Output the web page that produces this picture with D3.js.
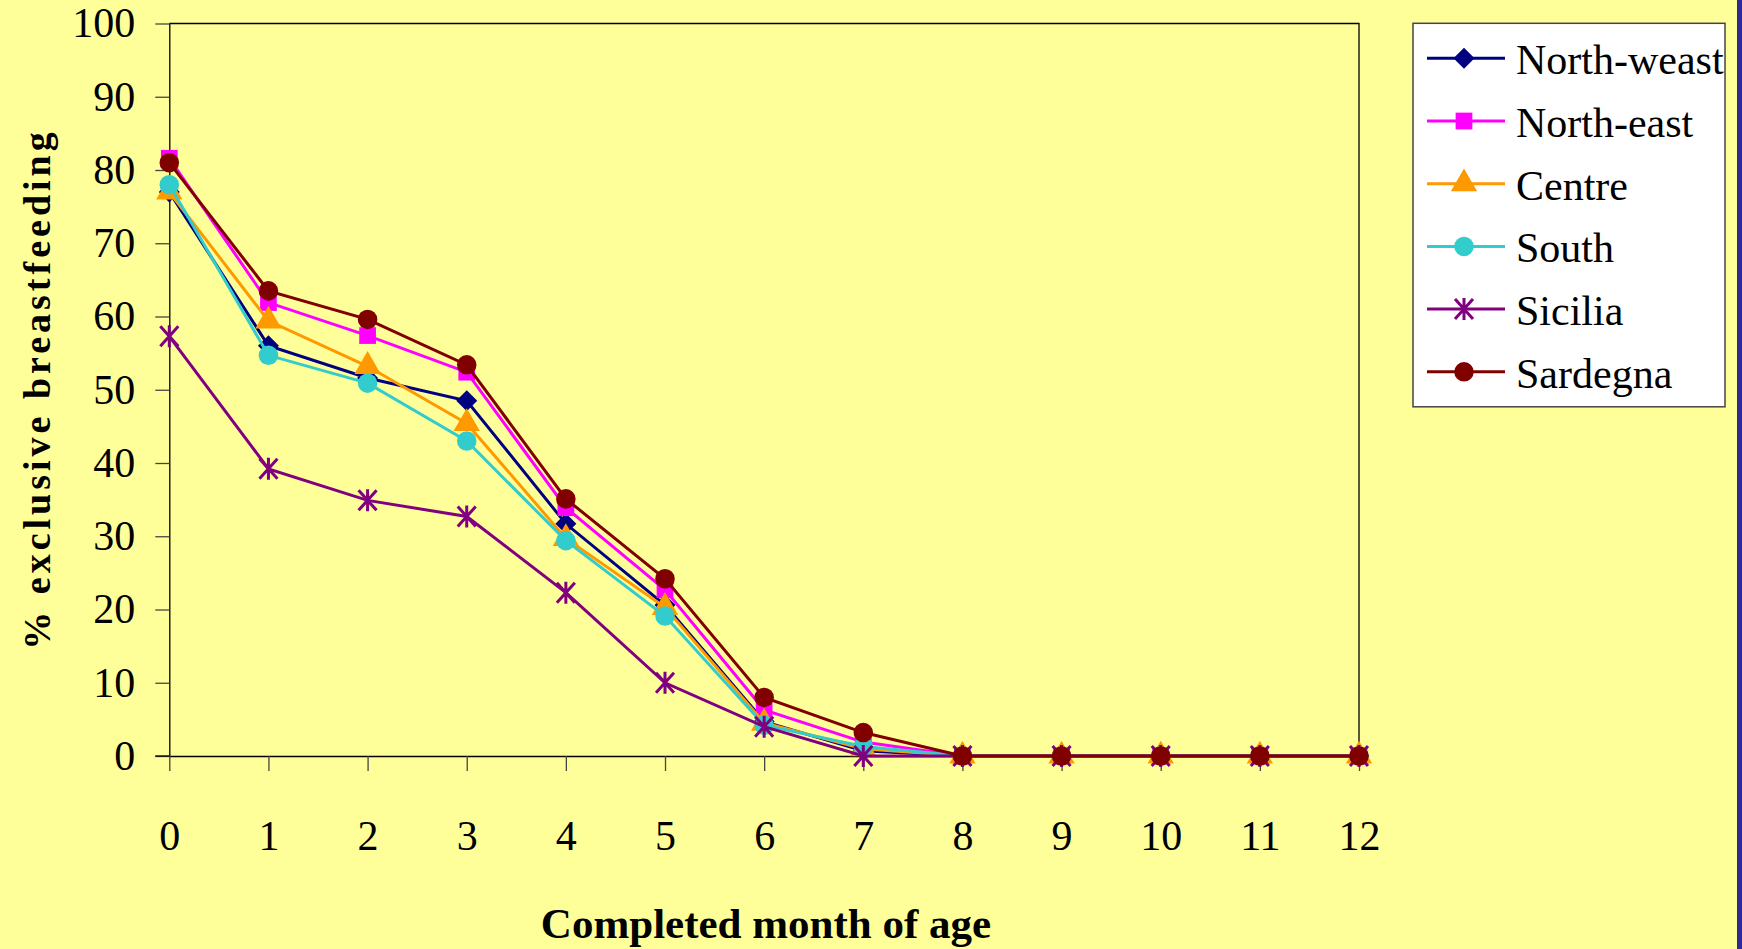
<!DOCTYPE html>
<html lang="en">

<head>
  <meta charset="utf-8">
  <title>Exclusive breastfeeding by area</title>
  <script src="https://cdn.jsdelivr.net/npm/d3@7"></script>
  <style>
    body { margin: 0; background: #ffff99; }
  </style>
</head>

<body>
  <script>
    // data
    const months = [0, 1, 2, 3, 4, 5, 6, 7, 8, 9, 10, 11, 12];
    const seriesNames = ["North-weast", "North-east", "Centre", "South", "Sicilia", "Sardegna"];
    const northWeast = [77, 56, 51.6, 48.5, 31.7, 20.6, 4.7, 0.7, 0, 0, 0, 0, 0];
    const northEast = [81.6, 61.9, 57.4, 52.4, 33.9, 22.7, 6.3, 1.9, 0, 0, 0, 0, 0];
    const centre = [77, 59.4, 53.2, 45.4, 29.7, 20.3, 4.5, 1.0, 0, 0, 0, 0, 0];
    const south = [78, 54.7, 50.9, 43, 29.4, 19.1, 4.2, 1.3, 0, 0, 0, 0, 0];
    const sicilia = [57.3, 39.2, 34.9, 32.7, 22.3, 10, 4, 0, 0, 0, 0, 0, 0];
    const sardegna = [81, 63.5, 59.6, 53.4, 35.1, 24.2, 8, 3.2, 0, 0, 0, 0, 0];
    const yTicks = [0, 10, 20, 30, 40, 50, 60, 70, 80, 90, 100];

    const colors = ["#000080", "#ff00ff", "#ff9900", "#33cccc", "#800080", "#800000"];
    const shapes = ["diamond", "square", "triangle", "circle", "star", "circle"];
    const allValues = [northWeast, northEast, centre, south, sicilia, sardegna];
    const series = seriesNames.map((name, i) => ({
      name: name, color: colors[i], shape: shapes[i],
      values: months.map((m, j) => ({ month: m, value: allValues[i][j] }))
    }));

    //config
    const width = 1742, height = 949;
    const plot = { left: 169.3, right: 1359, top: 23.5, bottom: 756 };
    const serif = "'Liberation Serif', 'DejaVu Serif', serif";

    const svg = d3.select("body").append("svg")
      .attr("width", width).attr("height", height);
    svg.append("rect").attr("width", width).attr("height", height).style("fill", "#ffff99");
    // slide edge on the right
    svg.append("rect").attr("x", 1737).attr("y", 0).attr("width", 5).attr("height", height)
      .style("fill", "#2b2b9e");

    const x = d3.scaleLinear().domain([0, 12]).range([plot.left, plot.right]);
    const y = d3.scaleLinear().domain([0, 100]).range([plot.bottom, plot.top]);

    // frame: top and right border
    svg.append("path")
      .attr("d", `M${plot.left},${plot.top}H${plot.right}V${plot.bottom}`)
      .style("fill", "none").style("stroke", "#000").style("stroke-width", 1.3);

    const yAxis = svg.append("g").attr("transform", `translate(${plot.left},0)`)
      .call(d3.axisLeft(y).tickValues(yTicks).tickSize(14).tickSizeOuter(0).tickPadding(20));
    const xAxis = svg.append("g").attr("transform", `translate(0,${plot.bottom})`)
      .call(d3.axisBottom(x).tickValues(months).tickSize(15).tickSizeOuter(0).tickPadding(49));
    [yAxis, xAxis].forEach(g => {
      g.select(".domain").style("stroke", "#000").style("stroke-width", 1.3);
      g.selectAll(".tick line").style("stroke", "#444").style("stroke-width", 1.3);
      g.selectAll(".tick text").style("font-size", "42px")
        .style("font-family", serif).style("fill", "#000");
    });
    // axis line runs on to the end of the 0 tick
    svg.append("line").attr("x1", plot.left - 14).attr("x2", plot.left)
      .attr("y1", plot.bottom).attr("y2", plot.bottom).style("stroke", "#000").style("stroke-width", 1.3);

    // axis titles
    svg.append("text")
      .attr("transform", "translate(50,389) rotate(-90)")
      .attr("text-anchor", "middle")
      .style("font-family", serif)
      .style("font-size", "38px").style("font-weight", "bold").style("letter-spacing", "4px")
      .text("% exclusive breastfeeding");
    svg.append("text")
      .attr("x", 766).attr("y", 938)
      .attr("text-anchor", "middle")
      .style("font-family", serif)
      .style("font-size", "43px").style("font-weight", "bold")
      .text("Completed month of age");

    // marker generator (diamond and star drawn by hand, as Excel draws them)
    function drawMarker(sel, shape, color) {
      if (shape === "star") {
        sel.append("path")
          .attr("d", "M-9,-10L9,10M9,-10L-9,10M0,-11V11")
          .style("stroke", color).style("stroke-width", 3).style("fill", "none");
      } else if (shape === "diamond") {
        sel.append("path")
          .attr("d", "M0,-10.5L10.5,0L0,10.5L-10.5,0Z")
          .style("fill", color);
      } else {
        const type = { square: d3.symbolSquare,
          triangle: d3.symbolTriangle, circle: d3.symbolCircle }[shape];
        const size = { square: 280, triangle: 300, circle: 300 }[shape];
        sel.append("path")
          .attr("d", d3.symbol().type(type).size(size)())
          .style("fill", color);
      }
    }

    const line = d3.line().x(d => x(d.month)).y(d => y(d.value));

    series.forEach(s => {
      const g = svg.append("g").attr("class", "series");
      g.append("path").datum(s.values)
        .attr("d", line)
        .style("fill", "none").style("stroke", s.color).style("stroke-width", 3);
      g.selectAll("g.pt").data(s.values).enter().append("g").attr("class", "pt")
        .attr("transform", d => `translate(${x(d.month)},${y(d.value)})`)
        .each(function () { drawMarker(d3.select(this), s.shape, s.color); });
    });

    // legend
    const legend = svg.append("g");
    legend.append("rect")
      .attr("x", 1413).attr("y", 23.3).attr("width", 312).attr("height", 383.5)
      .style("fill", "#fff").style("stroke", "#444").style("stroke-width", 1.5);
    series.forEach((s, i) => {
      const ly = 58.3 + i * 62.7;
      const item = legend.append("g");
      item.append("line").attr("x1", 1427).attr("x2", 1505).attr("y1", ly).attr("y2", ly)
        .style("stroke", s.color).style("stroke-width", 3);
      drawMarker(item.append("g").attr("transform", `translate(1464,${ly})`), s.shape, s.color);
      item.append("text").attr("x", 1516).attr("y", ly + 16)
        .style("font-family", serif).style("fill", "#000")
        .style("font-size", "42px").text(s.name);
    });
  </script>
</body>

</html>
